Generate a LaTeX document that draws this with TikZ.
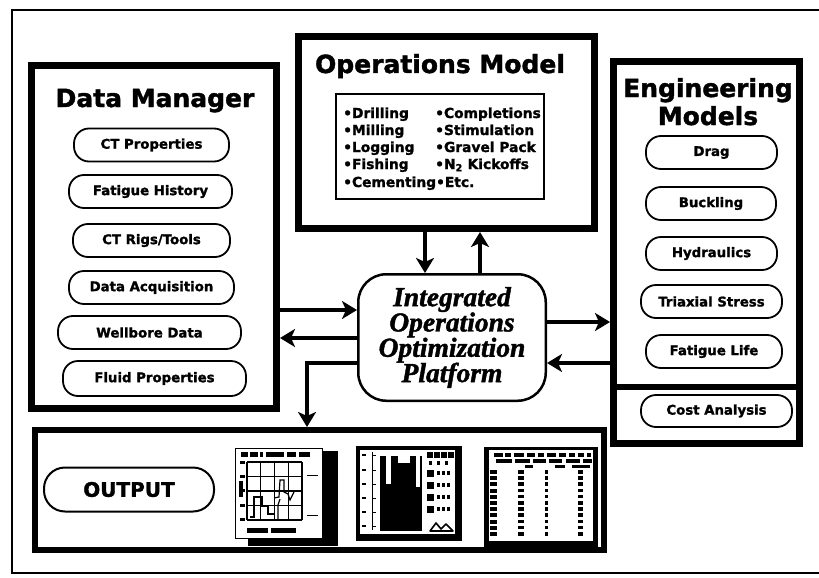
\documentclass[tikz,border=0pt]{standalone}
\usepackage{fontspec}
\newfontfamily\dv{DejaVu Sans}[BoldFeatures={FakeBold=1.5}]
\newfontfamily\tnr{Liberation Serif}[BoldItalicFeatures={FakeBold=1.5}]
\usetikzlibrary{arrows.meta}
\begin{document}
\begin{tikzpicture}[x=1pt,y=-1pt,
  bigbox/.style={draw, line width=7pt, inner sep=0pt, fill=white},
  pill/.style={draw, line width=1.8pt, rounded corners=15pt, minimum height=33pt, inner sep=0pt, font=\dv\bfseries\fontsize{13.3}{15}\selectfont},
  ttl/.style={inner sep=0pt, font=\dv\bfseries\fontsize{25}{28}\selectfont},
  item/.style={inner sep=0pt, font=\dv\bfseries\fontsize{13.8}{15}\selectfont},
  arr/.style={line width=3.5pt, -{Stealth[length=15pt,width=18pt,inset=4pt]}},
  thin/.style={line width=1pt}]
\useasboundingbox (0,0) rectangle (819,578);
% outer frame (open at right)
\draw[line width=2pt] (819,10) -- (12,10) -- (12,573) -- (819,573);

% ---------- Data Manager ----------
\node[bigbox, minimum width=245, minimum height=343] (dm) at (154,237) {};
\node[ttl, anchor=base] (dmt) at (155,107) {Data Manager};
\node[pill, minimum width=155] (p1) at (151.5,145) {CT Properties};
\node[pill, minimum width=163] (p2) at (150.5,191.5) {Fatigue History};
\node[pill, minimum width=157] (p3) at (151.5,240.5) {CT Rigs/Tools};
\node[pill, minimum width=165] (p4) at (151.5,287.5) {Data Acquisition};
\node[pill, minimum width=183] (p5) at (149.5,332.5) {Wellbore Data};
\node[pill, minimum width=183, minimum height=35pt] (p6) at (154.5,378.5) {Fluid Properties};

% ---------- Operations Model ----------
\node[bigbox, minimum width=296, minimum height=192] (ops) at (446.5,132.5) {};
\node[ttl, anchor=base] (opst) at (440,73) {Operations Model};
\node[draw, line width=1.5pt, minimum width=208, minimum height=105, inner sep=0pt] (list) at (440,146.5) {};
\node[item, anchor=base west] (o1) at (343,118) {•Drilling};
\node[item, anchor=base west] (o2) at (343,135) {•Milling};
\node[item, anchor=base west] (o3) at (343,152) {•Logging};
\node[item, anchor=base west] (o4) at (343,169) {•Fishing};
\node[item, anchor=base west] (o5) at (343,187) {•Cementing•Etc.};
\node[item, anchor=base west] (o6) at (435,118) {•Completions};
\node[item, anchor=base west] (o7) at (435,135) {•Stimulation};
\node[item, anchor=base west] (o8) at (435,152) {•Gravel Pack};
\node[item, anchor=base west] (o9) at (435,169) {•N\textsubscript{2} Kickoffs};

% ---------- Engineering Models ----------
\node[bigbox, minimum width=186, minimum height=382] (eng) at (706.5,252.5) {};
\coordinate (h387) at (0,387);
\draw[line width=6pt] (eng.west |- h387) -- (eng.east |- h387);
\node[ttl, anchor=base] (engt1) at (708,97) {Engineering};
\node[ttl, anchor=base] (engt2) at (708,125) {Models};
\node[pill, minimum width=131] (e1) at (711.5,152.5) {Drag};
\node[pill, minimum width=130] (e2) at (711,203.5) {Buckling};
\node[pill, minimum width=131] (e3) at (711.5,253.5) {Hydraulics};
\node[pill, minimum width=141] (e4) at (711.5,301.5) {Triaxial Stress};
\node[pill, minimum width=136] (e5) at (714,351.5) {Fatigue Life};
\node[pill, minimum width=151, minimum height=32pt] (e6) at (716.5,411) {Cost Analysis};

% ---------- Platform ----------
\node[draw, line width=2.5pt, rounded corners=28pt, minimum width=187.5, minimum height=126.5, fill=white,
      align=center, inner sep=0pt, font=\tnr\bfseries\itshape\fontsize{27.5}{25.3}\selectfont] (plat) at (452,337.5)
      {Integrated\\Operations\\Optimization\\Platform};

% ---------- Output ----------
\node[draw, line width=4pt, minimum width=571, minimum height=122, inner sep=0pt] (out) at (319.5,490) {};
\draw[line width=1.3pt] ([shift={(5pt,-5pt)}]out.north west) rectangle ([shift={(-5pt,5pt)}]out.south east);
\node[pill, line width=2pt, rounded corners=21pt, minimum width=170, minimum height=44pt,
      font=\dv\bfseries\fontsize{20}{24}\selectfont] (outp) at (129,489.5) {OUTPUT};

% thumbnail 1: line chart
\fill[black] (323,451) rectangle (338,546);
\fill[black] (248,538) rectangle (338,546);
\draw[line width=0.8pt] (235,448) rectangle (322,538);
\foreach \i in {0,...,4} {
  \draw[line width=1.2pt] (247+\i*13.75,462) -- (247+\i*13.75,520);
  \draw[line width=1.2pt] (247,462+\i*14.5) -- (302,462+\i*14.5);
}
\foreach \a/\b in {241/248,250/258,260/263,266/284,287/296,299/310} \fill (\a,452) rectangle (\b,456.5);
\foreach \a/\b in {247/268,271/296} \fill (\a,528) rectangle (\b,532.5);
\foreach \yy in {462,476,490,505,519} \fill (240,\yy-1.5) rectangle (245,\yy+1.5);
\fill (239,481) rectangle (243,497);
\draw[line width=1.2pt] (250,517) -- (254,517) -- (254,497) -- (262,497) -- (262,506) -- (268,506) -- (268,514) -- (274,514);
\draw[line width=1.2pt] (274,498) -- (279,497) -- (280,480) -- (284,480) -- (284,492) -- (288,494) -- (290,500) -- (294,492);
\draw[line width=1.2pt] (278,520) -- (278,505) -- (280,499);
\draw[line width=1pt] (307,475) -- (318,475) (307,515) -- (318,515);

% thumbnail 2: bar chart
\fill[black] (356,446) rectangle (462,541);
\fill[white] (360,450) rectangle (455,534);
\draw[line width=1pt] (372,452) -- (372,530);
\foreach \yy in {455,470,484,498,512,526} {\fill (362,\yy-1.2) rectangle (366,\yy+1.2); \draw[line width=1pt] (372,\yy) -- (376,\yy);}
\fill (380,456) rectangle (422,531);
\fill[white] (386,456) rectangle (391,484);
\fill[white] (398,456) rectangle (410,463);
\fill[white] (416,456) rectangle (420,487);
\foreach \xx in {427,434,441,448} \fill (\xx,452) rectangle (\xx+5.5,458);
\foreach \xx in {429,437,445} \fill (\xx,461) rectangle (\xx+3,465);
\foreach \yy in {470,482,494,506} {
  \fill (427,\yy) rectangle (434,\yy+7);
  \foreach \xx in {437,442,447} \fill (\xx,\yy+1) rectangle (\xx+3,\yy+5);
}
\draw[line width=1.6pt, line join=round] (430,531) -- (436,523) -- (441,529) -- (446,524) -- (453,531) -- cycle;

% thumbnail 3: table
\fill[black] (484,447) rectangle (598,548);
\fill[white] (489,450) rectangle (593,541);
\foreach \a/\b in {494/503,505/511,514/524,527/535,538/544,547/556,559/566,569/575,578/584,587/591} \fill (\a,453) rectangle (\b,457);
\foreach \a/\b in {496/512,515/530,533/546,549/562,566/580,583/592} \fill (\a,459) rectangle (\b,463);
\foreach \a/\b in {525/533,555/565,572/590} \fill (\a,465) rectangle (\b,467.5);
\foreach \k in {0,...,10} {
  \pgfmathsetmacro\yy{470+\k*6.2}
  \fill (490,\yy) rectangle (497,\yy+4);
  \fill (518,\yy) rectangle (524,\yy+3.5);
  \fill (545,\yy) rectangle (548,\yy+3.5);
  \fill (578,\yy) rectangle (583,\yy+3.5);
}

% ---------- connectors ----------
\coordinate (v425) at (425,0);
\coordinate (v480) at (480,0);
\coordinate (v307) at (307,0);
\coordinate (h310) at (0,310);
\coordinate (h338) at (0,338);
\coordinate (h363) at (0,363);
\coordinate (h322) at (0,322);
\draw[arr] (ops.south -| v425) -- (plat.north -| v425);
\draw[arr] (plat.north -| v480) -- (ops.south -| v480);
\draw[arr] (dm.east |- h310) -- (plat.west |- h310);
\draw[arr] (plat.west |- h338) -- (dm.east |- h338);
\draw[arr] (plat.west |- h363) -- (v307 |- h363) -- (out.north -| v307);
\draw[arr] (plat.east |- h322) -- (eng.west |- h322);
\draw[arr] (eng.west |- h363) -- (plat.east |- h363);
\end{tikzpicture}
\end{document}
